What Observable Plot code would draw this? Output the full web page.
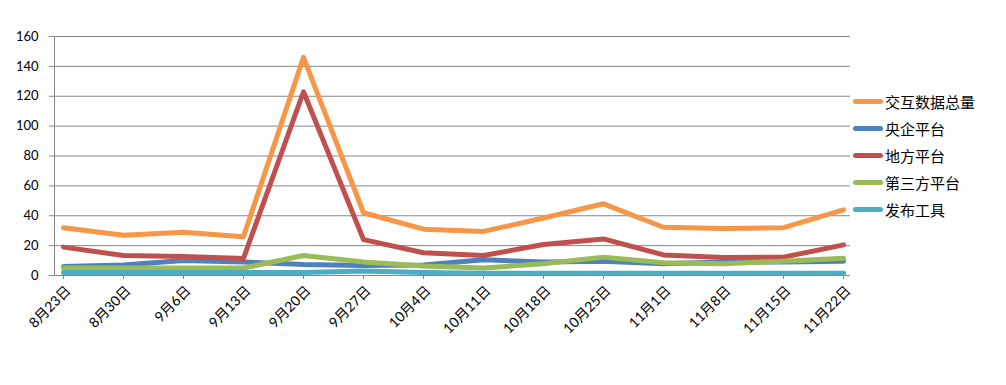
<!DOCTYPE html>
<html>
<head>
<meta charset="utf-8">
<script src="https://cdn.jsdelivr.net/npm/d3@7"></script>
<script src="https://cdn.jsdelivr.net/npm/@observablehq/plot@0.6"></script>
<style>
  html, body { margin: 0; padding: 0; background: #fff; }
  #wrap { position: relative; width: 1006px; height: 385px; }
  #legend { position: absolute; left: 853px; top: 88px; font-family: "Noto Sans CJK SC", sans-serif; font-size: 15px; color: #000; }
  .item { display: flex; align-items: center; height: 27px; }
  .swatch { width: 30px; height: 5px; border-radius: 3px; margin-right: 2px; }
</style>
</head>
<body>
<div id="wrap"><div id="legend"></div></div>
<script>
const dates = ["8月23日","8月30日","9月6日","9月13日","9月20日","9月27日","10月4日","10月11日","10月18日","10月25日","11月1日","11月8日","11月15日","11月22日"];
const seriesNames = ["交互数据总量","央企平台","地方平台","第三方平台","发布工具"];
const seriesColors = ["#F79646","#4F81BD","#C0504D","#9BBB59","#4BACC6"];
const total   = [32, 27, 29, 26, 146, 42, 31, 29.5, 38.5, 48, 32.3, 31.5, 32, 44];
const central = [6, 7, 10, 9, 7.4, 6.7, 7, 10.5, 9, 9.6, 7.8, 9, 9, 9.6];
const local   = [19, 13.4, 12.7, 11.4, 123, 24, 15.2, 13.4, 20.7, 24.5, 13.8, 12, 12.3, 20.5];
const third   = [5, 5, 5, 5, 13.4, 9, 6.3, 5, 7.8, 12.3, 8.5, 7.8, 9.6, 11.6];
const tool    = [2, 2, 2, 2, 2, 3, 2, 1.5, 1.5, 1.5, 1.5, 1.5, 1.5, 1.5];
const yTicks = [0, 20, 40, 60, 80, 100, 120, 140, 160];

const valuesBySeries = [total, central, local, third, tool];
const rows = seriesNames.flatMap((s, i) => dates.map((d, j) => ({series: s, date: d, value: valuesBySeries[i][j]})));

const chart = Plot.plot({
  width: 1006,
  height: 385,
  marginLeft: 54,
  marginRight: 156,
  marginTop: 36,
  marginBottom: 110,
  style: {fontFamily: "Lato, 'Noto Sans CJK SC', sans-serif", fontSize: "13px", color: "#000", background: "#fff"},
  x: {type: "point", domain: dates, padding: 0, insetLeft: 4, insetRight: 2, label: null},
  y: {domain: [0, 160], ticks: yTicks, label: null},
  color: {domain: seriesNames, range: seriesColors},
  marks: [
    Plot.ruleY(yTicks, {stroke: "#868686", strokeWidth: 1}),
    Plot.frame({anchor: "left", stroke: "#868686"}),
    Plot.axisY({ticks: yTicks, tickSize: 5, tickPadding: 11, stroke: "#868686", label: null, tickFormat: d => d, fontFamily: "Lato", fontSize: 13}),
    Plot.axisX({tickSize: 4, stroke: "#868686", text: null, label: null}),
    Plot.axisX({tickSize: 0, tickRotate: -45, tickPadding: 4, dx: 5, dy: 9, label: null, fontSize: 14, fontFamily: "Lato, 'Noto Sans CJK SC'"}),
    Plot.lineY(rows, {x: "date", y: "value", z: "series", stroke: "series", strokeWidth: 5, strokeLinejoin: "round", strokeLinecap: "round"})
  ]
});
const wrap = document.getElementById("wrap");
wrap.insertBefore(chart, wrap.firstChild);

const legend = document.getElementById("legend");
seriesNames.forEach((s, i) => {
  const it = document.createElement("div");
  it.className = "item";
  const sw = document.createElement("div");
  sw.className = "swatch";
  sw.style.background = seriesColors[i];
  const lb = document.createElement("span");
  lb.textContent = s;
  it.appendChild(sw); it.appendChild(lb);
  legend.appendChild(it);
});
</script>
</body>
</html>
